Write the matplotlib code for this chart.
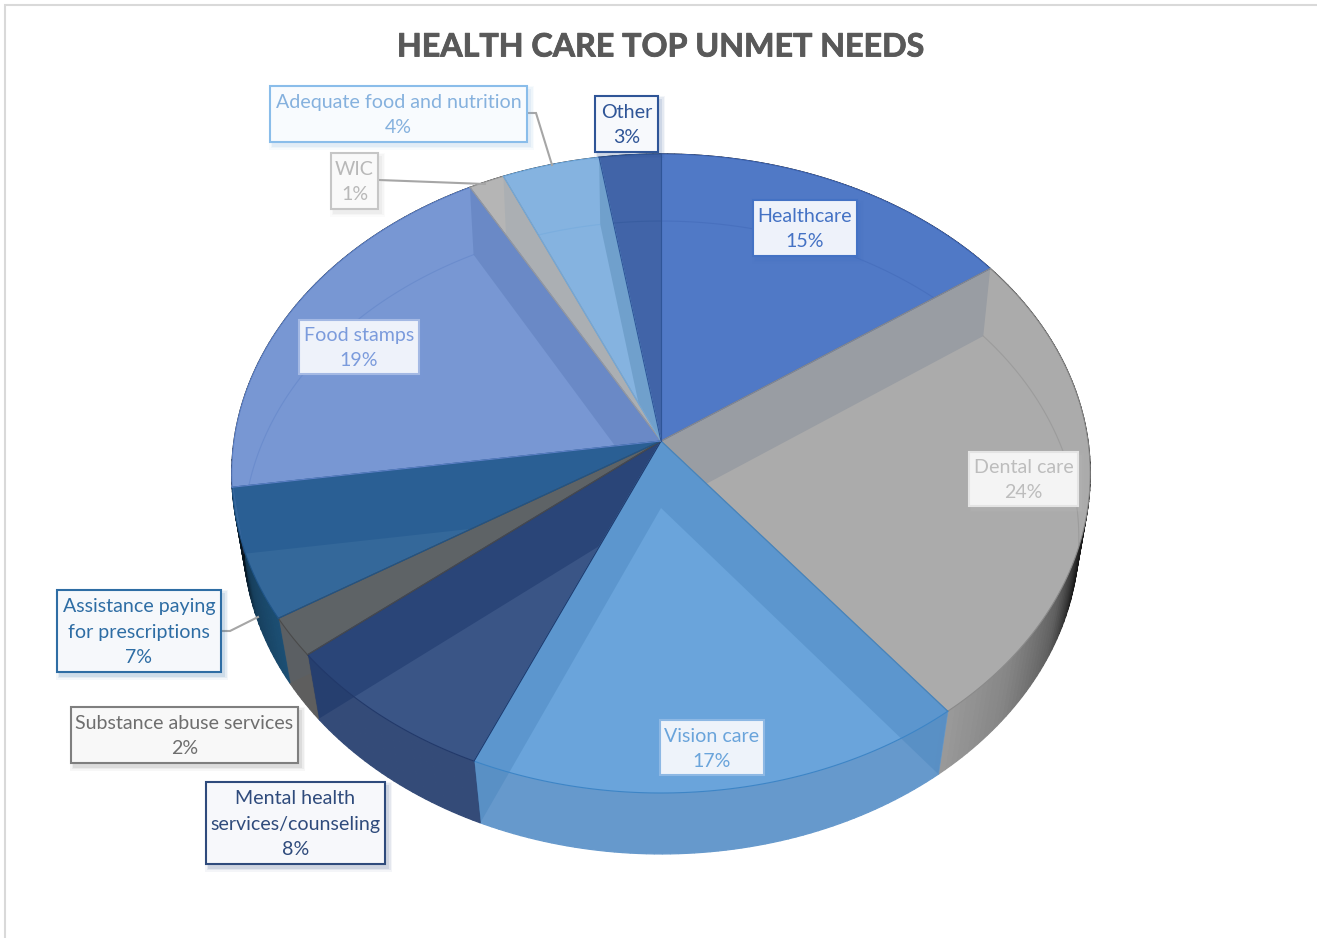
import numpy as np
import matplotlib
matplotlib.use("Agg")
import matplotlib.pyplot as plt
from matplotlib.patches import Polygon, Rectangle
from matplotlib.path import Path
from matplotlib.colors import to_rgb
import matplotlib.patheffects as pe

# ---------- data ----------
categories = ["Healthcare", "Dental care", "Vision care",
              "Mental health\nservices/counseling", "Substance abuse services",
              "Assistance paying\nfor prescriptions", "Food stamps", "WIC",
              "Adequate food and nutrition", "Other"]
values = [15.2, 24.2, 17.1, 7.6, 2.0, 6.6, 19.2, 1.49, 4.06, 2.55]
title = "HEALTH CARE TOP UNMET NEEDS"

# ---------- styles ----------
top_colors = ["#5079C6", "#ABABAB", "#6AA4DB", "#3A5586", "#636363",
              "#34689A", "#7897D3", "#B5B5B5", "#85B3E0", "#4164A8"]
wall_targets = ["#4C74BE", "#999DA3", "#5C97CE", "#2A4578", "#5E6366",
                "#2A5F94", "#6A8AC6", "#ABB0B3", "#70A0CC", "#4164A8"]
rim_colors = ["#4A6FB5", "#9C9C9C", "#6699CC", "#344B78", "#5E5E5E",
              "#1C4F74", "#6A8AC6", "#A5A5A5", "#78A5D0", "#3C5C9C"]
edge_colors = ["#3F66B5", "#8A8A8A", "#3D85C6", "#22396A", "#4A4A4A",
               "#1F5488", "#5C80C6", "#9A9A9A", "#6FA8DC", "#2F5597"]
label_fill = ["#EEF2FA", "#F4F4F4", "#EEF3FA", "#F7F8FB", "#F8F8F8",
              "#F6F8FB", "#EEF2FA", "#F9F9F9", "#F8FBFE", "#F7F9FC"]
label_edge = ["#4472C4", "#E4E4E4", "#8DB8E4", "#2F4B7C", "#7F7F7F",
              "#2E6DA4", "#A4B9E4", "#C6C6C6", "#8ABDEA", "#2F5597"]
label_text = ["#4472C4", "#BDBDBD", "#6AA4DB", "#2F4B7C", "#6E6E6E",
              "#2E6DA4", "#7B9BDC", "#B8B8B8", "#85B1DE", "#2F5597"]
# label boxes as (left, top, right, bottom) in figure pixels
label_boxes = [(753, 200, 857, 256), (969, 452, 1078, 506), (660, 720, 764, 775),
               (206, 782, 385, 864), (71, 707, 298, 763), (57, 590, 221, 672),
               (299, 320, 419, 374), (331, 153, 378, 209), (270, 86, 527, 142),
               (595, 96, 658, 152)]
leaders = [([221, 230, 258], [631, 631, 617]),
           ([379, 485], [180, 184]),
           ([527, 536, 552], [113, 113, 165])]

# projection of the pie disc to the page
TOP = dict(cx=661, cy=441, a=427.0, b=316.2, k=0.1017)
BOT = dict(cx=661, cy=508, a=416.0, b=313.7, k=0.0932)


def project(theta_deg, plane):
    t = np.radians(theta_deg)
    u, v = np.sin(t), np.cos(t)
    d = 1 + plane["k"] * v
    return plane["cx"] + plane["a"] * u / d, plane["cy"] - plane["b"] * v / d


def rim_shade(theta):
    right = np.interp(theta, [95, 108, 118, 130, 143], [0.0, 0.2, 0.62, 0.85, 1.0])
    left = np.interp(theta, [225, 238, 250, 258, 266], [1.0, 1.0, 0.8, 0.35, 0.1])
    return right if theta < 180 else left


fig = plt.figure(figsize=(13.17, 9.38), dpi=100)
ax = fig.add_axes([0, 0, 1, 1])
ax.set_xlim(0, 1317)
ax.set_ylim(938, 0)
ax.axis("off")
plt.rcParams["font.family"] = ["Lato", "DejaVu Sans"]

# page frame
ax.plot([5, 5, 1317], [938, 5, 5], color="#D9D9D9", lw=1.5, zorder=0, solid_joinstyle="miter")

edges = np.concatenate([[0], np.cumsum(values)]) / np.sum(values) * 360

# outer wall
for i in range(len(values)):
    thetas = np.arange(edges[i], edges[i + 1] + 1, 1.0)
    thetas[-1] = min(thetas[-1], edges[i + 1])
    base = np.array(to_rgb(rim_colors[i]))
    for a0, a1 in zip(thetas[:-1], thetas[1:]):
        x0, y0 = project(a0, TOP)
        x1, y1 = project(a1, TOP)
        x2, y2 = project(a1, BOT)
        x3, y3 = project(a0, BOT)
        col = base * rim_shade(0.5 * (a0 + a1))
        ax.add_patch(Polygon([(x0, y0), (x1, y1), (x2, y2), (x3, y3)], closed=True,
                             fc=col, ec=col, lw=0.9, zorder=1))

# top faces, cut walls, hidden arcs
for i in range(len(values)):
    start, end = edges[i], edges[i + 1]
    thetas = np.linspace(start, end, 90)
    tx, ty = project(thetas, TOP)
    bx, by = project(thetas, BOT)
    apex = (TOP["cx"], TOP["cy"])
    apex_b = (BOT["cx"], BOT["cy"])
    top_pts = [apex] + list(zip(tx, ty))
    ax.add_patch(Polygon(top_pts, closed=True, fc=top_colors[i], ec="none", zorder=2))

    # clip region of this slice: top face plus the part of its outer wall below it
    outer = []
    for px, py, qx, qy in zip(tx, ty, bx, by):
        dp = np.hypot(px - apex[0], py - apex[1])
        dq = np.hypot(qx - apex[0], qy - apex[1])
        outer.append((px, py) if dp >= dq else (qx, qy))
    clip = Path([apex, (tx[0], ty[0])] + outer + [(tx[-1], ty[-1]), apex], closed=True)

    top_rgb = np.array(to_rgb(top_colors[i]))
    tgt_rgb = np.array(to_rgb(wall_targets[i]))
    wall_rgb = np.clip((tgt_rgb - 0.6 * top_rgb) / 0.4, 0, 1)
    for ang in (start, end):
        p1 = project(ang, TOP)
        p2 = project(ang, BOT)
        wall = Polygon([apex, p1, p2, apex_b], closed=True, fc=wall_rgb, ec="none",
                       alpha=0.4, zorder=3)
        ax.add_patch(wall)
        wall.set_clip_path(clip, ax.transData)

    # faint far edge of the lower disc, seen through the slice
    line, = ax.plot(bx, by, color=edge_colors[i], lw=0.8, alpha=0.45, zorder=4)
    line.set_clip_path(Path(top_pts + [apex], closed=True), ax.transData)

    # slice edges
    ax.plot([apex[0], tx[0]], [apex[1], ty[0]], color=edge_colors[i], lw=0.8, zorder=5)
    ax.plot([apex[0], tx[-1]], [apex[1], ty[-1]], color=edge_colors[i], lw=0.8, zorder=5)
    ax.plot(tx, ty, color=edge_colors[i], lw=0.8, zorder=5)

# leader lines
for lx, ly in leaders:
    ax.plot(lx, ly, color="#A6A6A6", lw=1.5, zorder=6, solid_joinstyle="miter")

# data labels
for i, (l, t, r, b) in enumerate(label_boxes):
    for grow, alpha in ((4, 0.05), (2.5, 0.08), (1, 0.12)):
        ax.add_patch(Rectangle((l + 3 - grow, t + 4 - grow), r - l + 2 * grow, b - t + 2 * grow,
                               fc=label_text[i], ec="none", alpha=alpha, zorder=7))
    ax.add_patch(Rectangle((l, t), r - l, b - t, fc=label_fill[i], ec=label_edge[i],
                           lw=1.5, zorder=8))
    pct = f"{round(values[i])}%"
    ax.text((l + r) / 2, (t + b) / 2 + 1.2, f"{categories[i]}\n{pct}", color=label_text[i],
            ha="center", va="center", fontsize=14.1, linespacing=1.6, zorder=9)

ax.text(661, 47, title, color="#595959", ha="center", va="center",
        fontsize=23.2, fontweight="bold", zorder=9,
        path_effects=[pe.withStroke(linewidth=0.6, foreground="#595959")])

fig.savefig("out.png", dpi=100)
